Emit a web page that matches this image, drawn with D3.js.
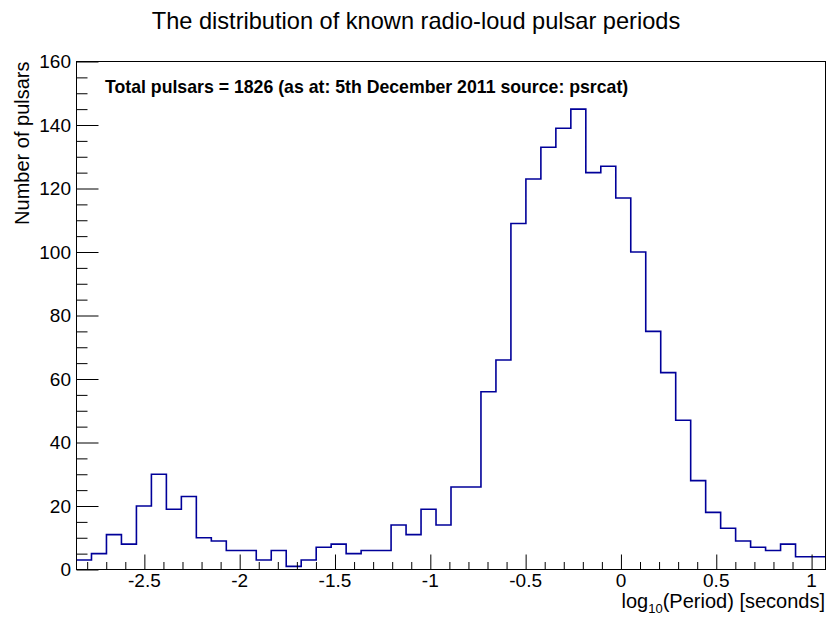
<!DOCTYPE html>
<html>
<head>
<meta charset="utf-8">
<script src="https://cdn.jsdelivr.net/npm/d3@7"></script>
<style>
  html, body { margin: 0; padding: 0; background: #fff; }
  svg { display: block; font-family: "Liberation Sans", Arial, Helvetica, sans-serif; }
</style>
</head>
<body>
<svg id="chart" width="826" height="619"></svg>
<script>
// ---- data ----
const title = "The distribution of known radio-loud pulsar periods";
const annotation = "Total pulsars = 1826 (as at: 5th December 2011 source: psrcat)";
const yTitle = "Number of pulsars";
const xRange = [-2.856, 1.073];          // histogram range, log10(P / s)
const counts = [3, 5, 11, 8, 20, 30, 19, 23, 10, 9,
                6, 6, 3, 6, 1, 3, 7, 8, 5, 6,
                6, 14, 11, 19, 14, 26, 26, 56, 66, 109,
                123, 133, 139, 145, 125, 127, 117, 100, 75, 62,
                47, 28, 18, 13, 9, 7, 6, 8, 4, 4];
const xMajorTicks = [-2.5, -2, -1.5, -1, -0.5, 0, 0.5, 1];
const xTickLabels = ["-2.5", "-2", "-1.5", "-1", "-0.5", "0", "0.5", "1"];
const yMajorTicks = [0, 20, 40, 60, 80, 100, 120, 140, 160];
const yTickLabels = ["0", "20", "40", "60", "80", "100", "120", "140", "160"];

// ---- layout ----
const L = 76.5, R = 825.5, T = 61.5, B = 569.5;
const svg = d3.select("#chart");
const x = d3.scaleLinear().domain(xRange).range([L, R]);
const y = d3.scaleLinear().domain([0, 160]).range([B, T]);

const nb = counts.length;
const bw = (xRange[1] - xRange[0]) / nb;
const edges = d3.range(nb + 1).map(i => xRange[0] + i * bw);

// histogram outline
const pts = [];
counts.forEach((c, i) => { pts.push([edges[i], c]); pts.push([edges[i + 1], c]); });
const line = d3.line().x(d => x(d[0])).y(d => y(d[1]));
svg.append("path")
  .attr("d", line(pts))
  .attr("fill", "none")
  .attr("stroke", "#000099")
  .attr("stroke-width", 1.6);

// frame
svg.append("rect").attr("x", L).attr("y", T).attr("width", R - L).attr("height", B - T)
  .attr("fill", "none").attr("stroke", "#000").attr("stroke-width", 1);

// x axis ticks (inside)
const xMinor = d3.range(-28, 11).map(v => v / 10).filter(v => v >= xRange[0] && v <= xRange[1]);
const xAxis = d3.axisBottom(x).tickValues(xMinor).tickSizeInner(0).tickSizeOuter(0).tickFormat("");
const gx = svg.append("g").attr("transform", `translate(0,${B})`).call(xAxis);
gx.select(".domain").remove();
gx.selectAll(".tick line").attr("y2", d => xMajorTicks.some(m => Math.abs(m - d) < 1e-9) ? -15 : -7.5)
  .attr("stroke", "#000");
svg.append("g").selectAll("text").data(xMajorTicks).join("text")
  .attr("x", d => x(d)).attr("y", 587)
  .attr("text-anchor", "middle").attr("font-size", 19).attr("fill", "#000")
  .text((d, i) => xTickLabels[i]);

// y axis ticks (inside)
const yMinor = d3.range(0, 161, 5);
const yAxis = d3.axisLeft(y).tickValues(yMinor).tickSizeInner(0).tickSizeOuter(0).tickFormat("");
const gy = svg.append("g").attr("transform", `translate(${L},0)`).call(yAxis);
gy.select(".domain").remove();
gy.selectAll(".tick line").attr("x2", d => d % 20 === 0 ? 22 : 11).attr("stroke", "#000");
svg.append("g").selectAll("text").data(yMajorTicks).join("text")
  .attr("x", 71).attr("y", d => y(d)).attr("dy", "0.36em")
  .attr("text-anchor", "end").attr("font-size", 19).attr("fill", "#000")
  .text((d, i) => yTickLabels[i]);

// titles
svg.append("text").attr("x", 416).attr("y", 29).attr("text-anchor", "middle")
  .attr("font-size", 23.6).attr("fill", "#000").text(title);

svg.append("text").attr("transform", `translate(29,${T}) rotate(-90)`)
  .attr("text-anchor", "end").attr("font-size", 20).attr("fill", "#000").text(yTitle);

const xt = svg.append("text").attr("x", 825).attr("y", 608).attr("text-anchor", "end")
  .attr("font-size", 20).attr("fill", "#000");
xt.append("tspan").text("log");
xt.append("tspan").attr("font-size", 13).attr("dy", 5).text("10");
xt.append("tspan").attr("dy", -5).text("(Period) [seconds]");

svg.append("text").attr("x", 105).attr("y", 93).attr("font-weight", "bold")
  .attr("font-size", 17.7).attr("fill", "#000").text(annotation);
</script>
</body>
</html>
